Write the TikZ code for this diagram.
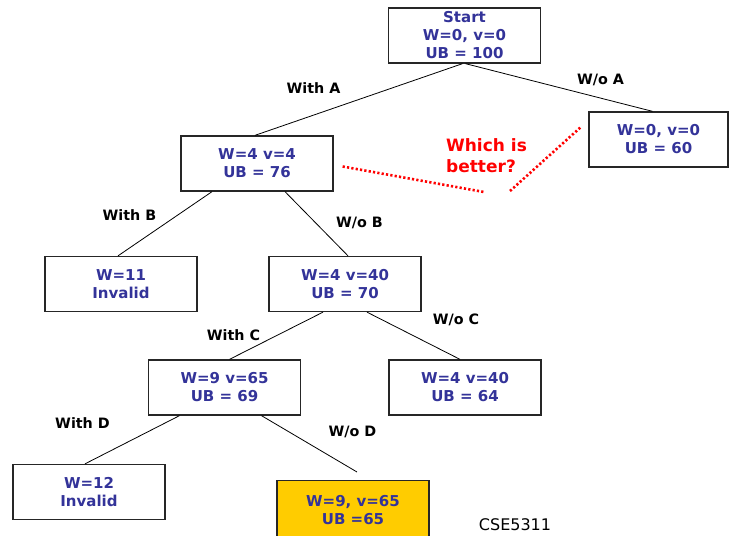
\documentclass[tikz,border=0pt]{standalone}
\usepackage{fontspec}
\setmainfont{DejaVu Sans}
\usetikzlibrary{calc}
\definecolor{nodeblue}{HTML}{333399}
\definecolor{bestfill}{HTML}{FFCC00}
\tikzset{
  state/.style={draw=black!85, line width=1.3pt, fill=white, minimum width=152pt,
    minimum height=55pt, align=center, inner sep=0pt, text=nodeblue,
    font=\bfseries\fontsize{15}{18}\selectfont},
  best/.style={state, fill=bestfill},
  branch/.style={line width=0.8pt, black},
  lbl/.style={font=\bfseries\fontsize{14.3}{17}\selectfont, text=black, inner sep=0pt},
  compare/.style={red, line width=2.6pt, dash pattern=on 2.2pt off 2.2pt}
}
\begin{document}
\begin{tikzpicture}[x=1pt, y=-1pt]
\useasboundingbox (0,0) rectangle (730,535);

% search tree states
\node[state] (start) at (464.5,35.5) {Start\\W=0, v=0\\UB = 100};
\node[state, minimum width=139pt] (noA) at (658.5,139.5) {W=0, v=0\\UB = 60};
\node[state] (a) at (257,163.5) {W=4 v=4\\UB = 76};
\node[state] (b1) at (121,284) {W=11\\Invalid};
\node[state] (b2) at (345,284) {W=4 v=40\\UB = 70};
\node[state] (c1) at (224.5,387.5) {W=9 v=65\\UB = 69};
\node[state] (c2) at (465,387.5) {W=4 v=40\\UB = 64};
\node[state] (d1) at (89,492) {W=12\\Invalid};
\node[best, anchor=north, minimum height=70pt] (d2) at (353,480) {};
\node[text=nodeblue, font=\bfseries\fontsize{15}{18}\selectfont, align=center]
  (d2t) at (353,510) {W=9, v=65\\UB =65};
\coordinate (noD) at (357,472);

% branches
\draw[branch] ([xshift=-2pt]start.south) -- ([xshift=-2pt]a.north);
\draw[branch] ([xshift=1pt]start.south) -- ([xshift=-6pt]noA.north);
\draw[branch] ([xshift=-45pt]a.south) -- ([xshift=-3pt]b1.north);
\draw[branch] ([xshift=28pt]a.south) -- ([xshift=3pt]b2.north);
\draw[branch] ([xshift=-22pt]b2.south) -- ([xshift=5pt]c1.north);
\draw[branch] ([xshift=22pt]b2.south) -- ([xshift=-5pt]c2.north);
\draw[branch] ([xshift=-45pt]c1.south) -- ([xshift=-4pt]d1.north);
\draw[branch] ([xshift=37pt]c1.south) -- (noD);

% branch labels
\node[lbl] (lA)  at (313.5,88)  {With A};
\node[lbl] (lnA) at (600.5,80)  {W/o A};
\node[lbl] (lB)  at (129.5,215) {With B};
\node[lbl] (lnB) at (359.5,223) {W/o B};
\node[lbl] (lC)  at (233.5,335) {With C};
\node[lbl] (lnC) at (456,320)   {W/o C};
\node[lbl] (lD)  at (82.5,423)  {With D};
\node[lbl] (lnD) at (352.5,432) {W/o D};

% comparison of the two open nodes
\node[text=red, font=\bfseries\fontsize{17}{21}\selectfont, align=left] (q) at (486.5,156) {Which is\\better?};
\coordinate (qL) at (484,192);
\coordinate (qR) at (510,191);
\draw[compare] ($(a.east)+(9pt,-3pt)$) -- (qL);
\draw[compare] (qR) -- ($(noA.west)+(-8pt,12pt)$);

% course tag
\node[font=\fontsize{16}{19}\selectfont, inner sep=0pt] (tag) at (515,524.5) {CSE5311};
\end{tikzpicture}
\end{document}
